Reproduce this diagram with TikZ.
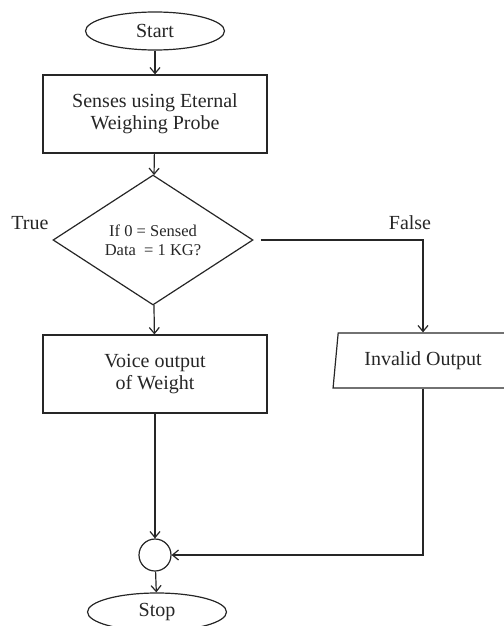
\documentclass[tikz,border=0pt]{standalone}
\usepackage{fontspec}
\setmainfont{Liberation Serif}
\usetikzlibrary{shapes.geometric,arrows.meta}

\tikzset{
  every node/.style={font=\fontsize{20}{22}\selectfont, text=black!85},
  line/.style={draw=black!85, line width=1.2pt},
  flow/.style={line, -{Straight Barb[length=6pt,width=10pt,line width=1.2pt]}},
  terminal/.style={line, ellipse, minimum width=139pt, minimum height=38pt, inner sep=0pt},
  process/.style={line, rectangle, minimum width=224pt, minimum height=78pt, align=center, inner sep=0pt},
  decision/.style={line, diamond, minimum width=200pt, minimum height=130pt, aspect=1.54, inner sep=0pt, align=center,
    font=\fontsize{16.5}{19}\selectfont},
  io/.style={line, trapezium, trapezium left angle=79, trapezium right angle=101,
    trapezium stretches=true, minimum width=180pt, minimum height=55pt, inner sep=0pt},
  junction/.style={line, circle, minimum size=32pt, inner sep=0pt},
}

\begin{document}
\begin{tikzpicture}[x=1pt, y=-1pt]
  \useasboundingbox (0,0) rectangle (503,626);

  \node[terminal] (start) at (155,31) {Start};
  \node[process]  (sense) at (155,114) {Senses using Eternal\\Weighing Probe};
  \node[decision] (check) at (153,240) {If 0 = Sensed\\Data\ \ = 1 KG?};
  \node[process]  (voice) at (155,374) {Voice output\\of Weight};
  \node[io]       (invalid) at (423,360.5) {Invalid Output};
  \node[junction] (merge) at (155,555) {};
  \node[terminal] (stop)  at (157,612) {Stop};

  \node (true)  at (30,223) {True};
  \node (false) at (410,223) {False};

  \draw[flow] (start) -- (sense);
  \draw[flow] (sense) -- (check);
  \draw[flow] (check) -- (voice);
  \draw[flow, shorten <=7pt] (check.east) -| (invalid.north);
  \draw[flow] (voice) -- (merge);
  \draw[flow] (invalid.south) |- (merge.east);
  \draw[flow] (merge) -- (stop);
\end{tikzpicture}
\end{document}
